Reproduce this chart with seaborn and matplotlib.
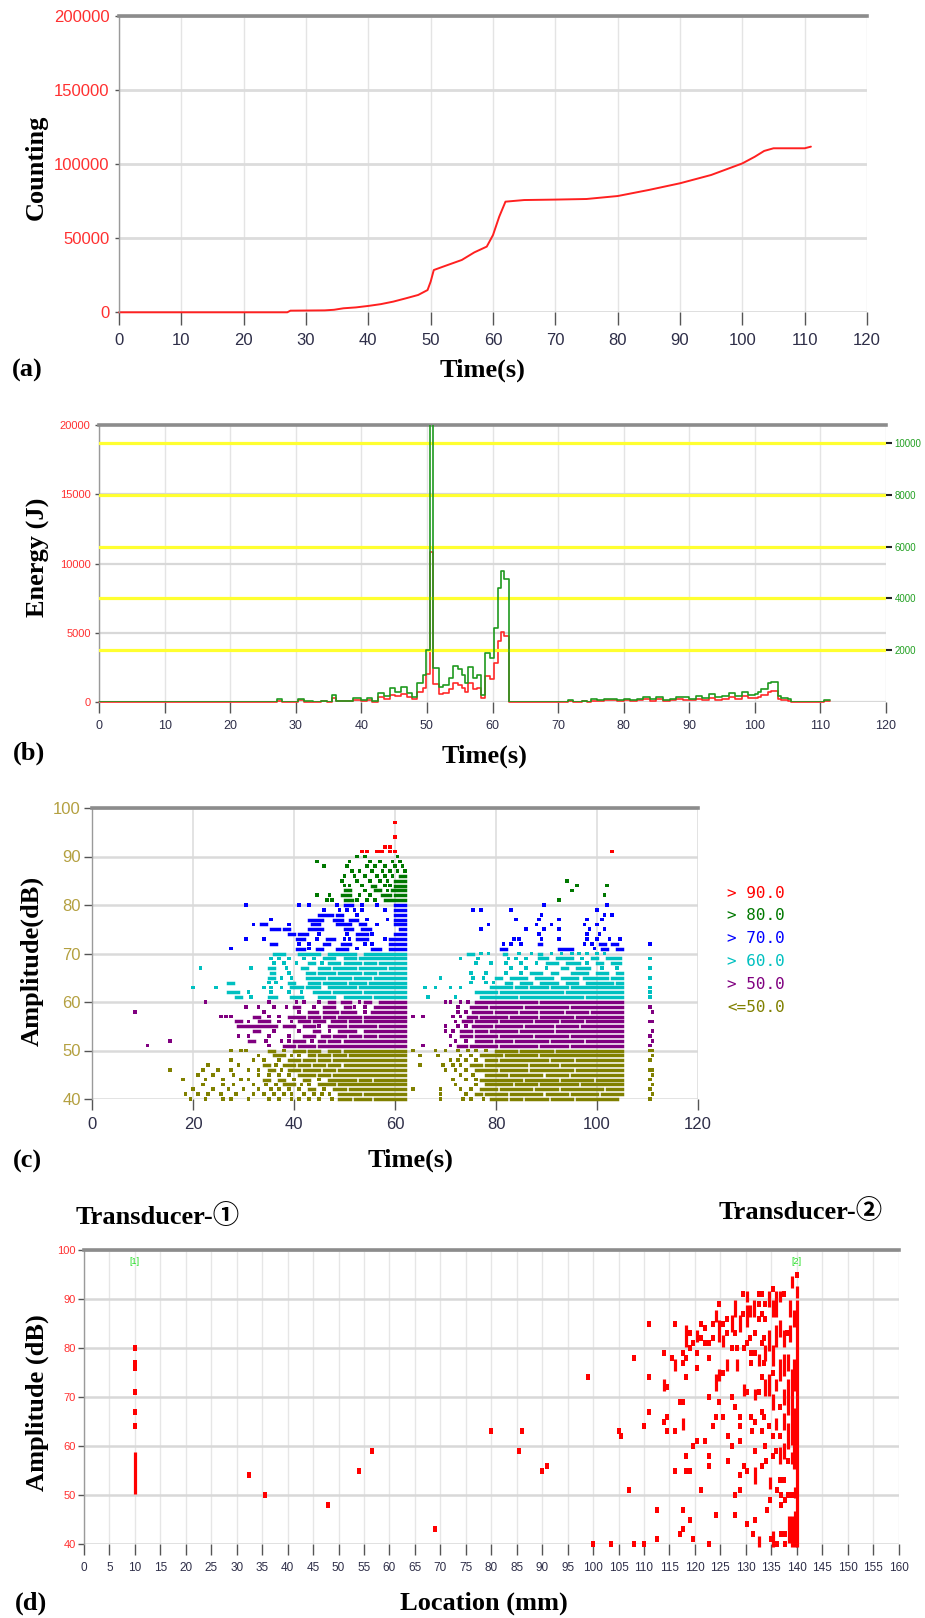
import matplotlib
matplotlib.use("Agg")
import matplotlib.pyplot as plt
import numpy as np
import pandas as pd
import seaborn as sns

# ---------------- data ----------------
# (a) cumulative counting vs time
count_time = [0, 27, 27.5, 33, 34.5, 36, 38, 40, 42, 44, 46, 48, 49.5, 50, 50.5, 52, 55, 57, 59, 60,
              61, 62, 65, 70, 75, 80, 85, 90, 95, 100, 102, 103.5, 105, 110, 111]
count_value = [0, 0, 1100, 1300, 1700, 2700, 3300, 4300, 5500, 7200, 9400, 11700, 15000, 20700, 28500,
               30800, 35300, 40400, 44300, 52100, 64500, 74600, 75700, 76000, 76400, 78400, 82500, 87000,
               92600, 100400, 104900, 108800, 110600, 110600, 111700]

# (b) energy step histogram (bin edges, value per bin)
energy_edges = [0, 27.2, 27.9, 30.4, 31.2, 32.6, 33.9, 34.8, 35.5, 36.1, 38.8, 39.9, 40.8, 41.7, 42.6,
                43.5, 44.4, 45.2, 46.0, 47.0, 47.8, 48.5, 49.4, 49.9, 50.4, 51.0, 51.8, 52.5, 53.3, 54.0,
                54.8, 55.3, 55.8, 56.3, 57.1, 57.6, 58.3, 58.9, 59.6, 60.3, 60.8, 61.3, 61.8, 62.5, 71.5,
                72.2, 73.6, 74.4, 75, 76, 77, 79, 80, 81, 82, 83, 84, 85, 86, 87, 88, 89, 90, 91, 92, 93,
                94, 95, 96, 97, 98, 99, 100, 100.5, 101, 102, 102.5, 103.5, 104, 105, 105.5, 110.5, 111.5]
energy_value = [0, 100, 0, 115, 30, 0, 50, 0, 270, 40,
                170, 77, 170, 20, 350, 230, 540, 400, 590, 350,
                210, 735, 1044, 2010, 10800, 1300, 590, 660, 915, 1390,
                1260, 1044, 720, 1365, 915, 1044, 270, 1880, 1690, 2850,
                4400, 5070, 4750, 0, 77, 0, 40, 0, 100, 60,
                120, 80, 110, 60, 130, 210, 100, 190, 80, 120,
                210, 180, 110, 230, 140, 300, 180, 240, 330, 230,
                400, 260, 320, 380, 500, 720, 760, 220, 160, 100,
                0, 70]

# (c) amplitude (dB) vs time: for each dB row, single times "t" or runs "t0-t1"
amp_rows_c = {
    97: "60",
    94: "60",
    92: "58 59",
    91: "53.5 54.5 56.5 57 57.5 59 60 103",
    90: "52.5 54 60.5",
    89: "44.5 51 55 57 59.5 61",
    88: "46 50.5 54.5 56 58 60 61.5",
    87: "51.5 53 55.5 57.5 59 60.5 62",
    86: "50 52 54 56.5 58 59.5 61-62",
    85: "49.5 52.5 55 57 58.5 60-62 94",
    84: "50 51 53.5 55.5-56 58 59 60-62 96 102",
    83: "50-51 54 56-57 58.5 59.5-62 95",
    82: "44.5 47 49.5-51 53 55 57.5-59 60-62 101.5",
    81: "46.5 47.5 50-51.5 52.5 54.5 56 58-62 92.5",
    80: "30.5 41 43 48.5 50-51.5 53.5 56.5 60-62 89.5 102",
    79: "46 49 50.5 52 53.5 58 60-62 75.5 77 83 100",
    78: "45-47.5 48.5-49.5 52.5 60-62 89 101.5 103",
    77: "35.5 43-45.5 48-49.5 51-52.5 54.5 58.5 60-62 84 88.5 92.5 98 101",
    76: "32 33.5-34.5 39 43.5-45 48.5-51 53-54 56.5 60-62 78.5 88 91 97.5 100",
    75: "35.5-37 38-39 43-45.5 50-51.5 53.5-55 61-62 77 86 89.5 92.5 98.5 101.5",
    74: "39-40 41-42.5 45 50.5 52.5-54.5 55.5 60-62 88.5 98 100.5",
    73: "30.5 34 40.5-42 44.5 46.5-48 50 51 52.5-54.5 58 59-62 83.5 84.5 89 92.5 98 100 102.5 104.5",
    72: "35.5-36.5 41 43 46-47 49.5-51 54 55.5 59-62 81.5 83 85 88.5-89 97.5 99 100.5-101.5 103-104 110.5",
    71: "27.5 40.5-42 43 44.5-45.5 48.5-50.5 52.5 55.5-57 59-62 81-82 92.5-95 99.5 101-102 104-105",
    70: "36-38 41-45 47-52 54-62 74.5-75.5 77 78.5 81.5-82 84.5 87 88.5-89 91 93 95 96.5 98 100 101.5",
    69: "35.5 37 39 42 44 46-48 50-52 53-62 73 76.5 82.5 84 86 88.5-90 92-95 97 99-100 102-104.5 110.5",
    68: "36 38 40.5 43-44 45.5 47-49 50-53 54-56 57-62 76 79 82 85 88 90-92 94-96.5 98 100-101 103-104.5",
    67: "21.5 31.5 35-36 38.5 41.5-42.5 45-47 48-52 53-58 59-62 83 86 90 93-94 96-98.5 101 104 110.5",
    66: "35.5-36 39 42.5-44 45-48 49-53 54-56 57-62 75 78 82 85 87-89 91-92 95-98 100-102 104-105",
    65: "35-36 37.5 39.5 42.5-46 47-51 52-55 56-62 69 75.5 77.5 80-81 83-86 88-91 93-96 97.5-102 103-105 110.5",
    64: "27-28 35 36.5 39-40 43-45 46-50 51-54 55-62 75 78 79.5 82-83 85-87 89-92 94-96 98-103 104-105",
    63: "20 24.5 34 35.5 37.5 39.5-41.5 42.5-45 47-52 53-62 66 68 71 73 79-83 84-86 87-90 91-94 95-105 110.5",
    62: "27-29 31 35.5 39 41.5 44-47 48-53 54-62 76-80 81-93 94-105 110.5",
    61: "28.5-29.5 31.5 35-36.5 39.5-41.5 45-48 50-55 56-62 66.5 72 77-84 85-97 98-105 110.5",
    60: "22.5 35 40.5 42 45 47-48 49.5-51 53 54-55 57-62 70 71 73 74.5 76-88 89-105",
    59: "30.5 33 36 38.5 40-41 44 46-48 50-51 52 54 56-62 72.5 75-78 79-85 86-94 95-105 110.5",
    58: "8.5 34 41 43-44.5 46-48.5 49.5-52 54 55.5-62 72.5 74 75.5-79 80-84 85-88 89-93 94-98 99-105 111",
    57: "25.5 26.5 27.5 32-33 35 37 39-42 43-45 46-48 49-53 54-62 63.5 65.5 71.5 73 74.5-76 77-82 83-88 89-95 96-105",
    56: "28.5-29.5 31 33-35 37 39.5 41-43 44-46 47.5-50 51-53 54-62 72 73.5-75 76-80 81-87 88-92 93-97 98-105 110.5 111",
    55: "29-36.5 38-40 42-44 45 47-50 51-56 57-62 70 72.5 74 75.5-79 80-85 86-91 92-96 97-105",
    54: "32-33 36 41 44-45 47 49-52 54-62 70 71.5 73-75 76-78 79-84 85-91 92-105 111",
    53: "29 31 35 39 42-44 45.5-47 48-50 51-53 54-56 57-62 71 73-75 76-80 81-87 88-94 95-105 110.5",
    52: "15.5 31-32 34.5 37.5 39 40-42 43.5 45-46 47-49 50-62 72 74 76-79 80-83 84-90 91-97 98-105 111",
    51: "11 35 38-40 41-44 45-62 65.5 71 72.5-74 75-80 81-88 89-94 95-105 110.5",
    50: "27.5 29.5 30.5 35-36 38 40-42 43-45 47-49 50-62 63.5 68 70 72.5 74.5 76 78 80-84 85-91 92-105 110.5 111",
    49: "33 36-38 39.5 41 43-44 45-47 48-50 51-62 65 68.5 73 75 77-81 82-88 89-105 111",
    48: "27.5 32 34 37 39-41 42-44 45-47 48-62 71 72.5 74 76 78-80 81-90 91-95 96-105 110.5",
    47: "23 29 34-35 36.5 38-40 41-43 44-46 47-49 50-62 65 69.5 71.5 73 75-77 78-86 87-92 93-105",
    46: "15.5 22 25 27.5 31 33 35-36 37.5 39-41 42-45 46-48 49-62 70 72 74 76-80 81-86 87-95 96-105 110.5 111",
    45: "21 24 28 33 35 37 39 41-44 45-47 48-62 73 75.5 78-82 83-89 90-94 95-105 111",
    44: "18 22.5 26 29.5 31 34-35 37-38 40 42-43 45 47-52 53-55 56-62 71.5 74 76 77-85 86-92 93-99 100-105 110.5",
    43: "22 26 28 32 34.5 36.5 38-40 41.5 43 45-48 49-62 72 76 78-83 84-88 89-96 97-105 111",
    42: "20 24 27 30 33 35.5 37 39 41 43-44 46 48-50 51-62 63.5 69 73 75 77-80 81-87 88-92 93-101 102-105 110.5",
    41: "18.5 21 23 25.5 28.5 32 34 36 38 39.5 42 44 45.5 47 49-53 54-62 69 74 76-77 78-82 83-89 90-94 95-100 101-105 111",
    40: "19.5 22.5 26 27.5 31 35 37 39.5 41 43 45 47.5 49-51 52-55 56-62 69 73.5 75 77.5 79-82 83-85 86-90 91-95 96-104 110.5",
}
legend_c = ["> 90.0", "> 80.0", "> 70.0", "> 60.0", "> 50.0", "<=50.0"]

# (d) amplitude (dB) vs location (mm): per location, single dB values or runs "dB0-dB1"
amp_cols_d = {
    10: "80 77 76 71 67 64 51-58", 32.5: "54", 35.5: "50", 48: "48", 54: "55", 56.5: "59",
    69: "43", 80: "63", 85.5: "59", 86: "63", 90: "55", 91: "56", 99: "74", 100: "40",
    103.5: "40", 105: "63", 105.5: "62", 107: "51", 108: "78 40", 110: "64 40",
    111: "85 74 67", 112.5: "47 41", 114: "79 72-73 65", 114.5: "72 66 63", 115.5: "78",
    116: "85 76-77 63 55", 117: "69 42", 117.6: "79 77 69 64-65 47 43", 118.3: "81-84 78 74 58 55",
    119: "83 80 55 45", 119.7: "81 60 41", 120.5: "82-83 79 76 61", 121.2: "85 82 51",
    122: "84 81 61", 122.7: "81 78 70 58 56 40", 123.5: "85 82 64", 124.1: "86-87 72-74 66 46",
    124.8: "89 82-85 74-75 69", 125.6: "85 81-82 75 66", 126.3: "86 83 76-77", 126.6: "62 57",
    127.2: "84-86 80 70 60", 127.9: "87-89 83 68 50 46", 128.2: "80 76-77",
    128.8: "84-86 66 64 61 54 51", 129.4: "91 87", 129.6: "80 71-72 56",
    130.2: "90-91 85-88 81 71 55 44", 130.9: "87-88 82", 131: "79 77 66", 131.2: "63",
    131.4: "42", 131.7: "87-89", 131.9: "83 79 70-71 65 59 53-55 45",
    132.5: "91 89 86 77-78 71 40-41", 133.2: "91 87 81 74 67 63 56", 133.5: "82 77 66",
    133.8: "89 86 78-80 71-73 60", 134: "57", 134.1: "47", 134.5: "89-91 80-83 71-74",
    134.6: "64", 134.8: "52-53 49", 134.9: "41", 135.3: "92 87-89 77-80 75 68-70 62 58",
    135.4: "40-42", 136: "87-91 81-84 72-73 64-65 59", 136.1: "51 40",
    136.7: "90-91 83-85 74-77 68 62 57-59 53", 137: "50 48 42",
    137.5: "91 81-83 75-78 69-71 64-66 58-60 53", 137.7: "49 42 40", 138: "83",
    138.2: "76-78 67-73 60-64 57 50", 138.4: "41-45", 138.7: "87-89 82-84",
    139: "93-94 61-75 57-58 50 40-45", 139.4: "85-87 72-77 56-67", 139.6: "50-51 40-46",
    140: "95 91-92 40-89",
}

# ---------------- style ----------------
sns.set_theme(style="white")
plt.rcParams['font.family'] = ['Liberation Sans', 'DejaVu Sans']
SERIF = ['Liberation Serif', 'DejaVu Serif', 'Noto Sans CJK JP']
NARROW = ['Liberation Sans Narrow', 'Liberation Sans', 'DejaVu Sans']

W, H = 925, 1618
fig = plt.figure(figsize=(W / 100, H / 100), dpi=100)
fig.patch.set_facecolor('white')


def box(l, t, r, b):
    return [l / W, 1 - b / H, (r - l) / W, (b - t) / H]


def ftxt(x, y, s, **kw):
    fig.text(x / W, 1 - y / H, s, **kw)


def parse(tokens):
    singles, runs = [], []
    for tok in tokens.split():
        if '-' in tok:
            a, b = tok.split('-')
            runs.append((float(a), float(b)))
        else:
            singles.append(float(tok))
    return singles, runs


def frame(ax, xcolor='#d8d8d8', ycolor='#d4d4d4', xw=1.0, yw=1.8):
    ax.set_facecolor('white')
    for s in ['right', 'bottom']:
        ax.spines[s].set_visible(False)
    ax.spines['top'].set_color('#8c8c8c')
    ax.spines['top'].set_linewidth(2.6)
    ax.spines['left'].set_color('#9a9a9a')
    ax.spines['left'].set_linewidth(1.0)
    ax.grid(True, axis='x', color=xcolor, lw=xw)
    ax.grid(True, axis='y', color=ycolor, lw=yw)
    ax.set_axisbelow(True)
    ax.set_xlabel('')
    ax.set_ylabel('')


LBL = dict(fontsize=19, fontweight='bold', family=SERIF, color='black')
XTC = '#2e2e48'

# ---------------- (a) ----------------
axa = fig.add_axes(box(119, 15.7, 867, 312.3))
sns.lineplot(x=count_time, y=count_value, color='#ff2020', lw=1.4, ax=axa,
             sort=False, estimator=None, clip_on=False)
axa.set_xlim(0, 120)
axa.set_ylim(0, 200000)
axa.set_xticks(range(0, 121, 10))
axa.set_yticks(range(0, 200001, 50000))
frame(axa, xcolor='#e4e4e4', ycolor='#dcdcdc', xw=1.0, yw=2.0)
axa.tick_params(axis='x', bottom=True, length=9, width=1, color='#555555', pad=6,
                labelsize=12, labelcolor=XTC)
axa.tick_params(axis='y', left=True, length=3, width=1, color='#555555', pad=4,
                labelsize=12, labelcolor='#ff3030')
for t in axa.get_xticklabels() + axa.get_yticklabels():
    t.set_family(NARROW)
ftxt(36, 167, 'Counting', rotation=90, ha='center', va='center', **LBL)
ftxt(482, 370, 'Time(s)', ha='center', va='center', **LBL)
ftxt(27, 370, '(a)', ha='center', va='center', **LBL)

# ---------------- (b) ----------------
axb = fig.add_axes(box(99, 425, 886, 702))
e_y = energy_value + [energy_value[-1]]
sns.lineplot(x=energy_edges, y=e_y, drawstyle='steps-post', color='#ff2a2a', lw=1.2,
             ax=axb, sort=False, estimator=None, clip_on=False)
axb.set_xlim(0, 120)
axb.set_ylim(0, 20000)
axb.set_xticks(range(0, 121, 10))
axb.set_yticks(range(0, 20001, 5000))
frame(axb, xcolor='#e4e4e4', ycolor='#d8d8d8', xw=1.0, yw=1.6)
axb.tick_params(axis='x', bottom=True, length=8, width=1, color='#555555', pad=5,
                labelsize=9, labelcolor=XTC)
axb.tick_params(axis='y', left=True, length=3, width=1, color='#555555', pad=3,
                labelsize=8, labelcolor='#ff3030')
axb2 = axb.twinx()
sns.lineplot(x=energy_edges, y=e_y, drawstyle='steps-post', color='#1f9a1f', lw=1.2,
             ax=axb2, sort=False, estimator=None, clip_on=True)
axb2.set_ylim(0, 10700)
axb2.set_yticks(range(2000, 10001, 2000))
for s in axb2.spines.values():
    s.set_visible(False)
axb2.grid(True, axis='y', color='#ffff30', lw=2.3)
axb2.grid(False, axis='x')
axb2.set_ylabel('')
axb2.tick_params(axis='y', right=True, length=4, width=1.5, color='#222222', pad=2,
                 labelsize=7, labelcolor='#22a022')
for t in axb.get_xticklabels() + axb.get_yticklabels() + axb2.get_yticklabels():
    t.set_family(NARROW)
ftxt(38, 557, 'Energy (J)', rotation=90, ha='center', va='center', **LBL)
ftxt(485, 756, 'Time(s)', ha='center', va='center', **LBL)
ftxt(29, 753, '(b)', ha='center', va='center', **LBL)

# ---------------- (c) ----------------
colors_c = ['#ff0000', '#007800', '#0000ff', '#00c0c0', '#800080', '#808000']


def band(db):
    if db > 90:
        return 0
    if db > 80:
        return 1
    if db > 70:
        return 2
    if db > 60:
        return 3
    if db > 50:
        return 4
    return 5


axc = fig.add_axes(box(92, 808, 698, 1099))
pts = []
runs_c = []
for db, toks in amp_rows_c.items():
    singles, runs = parse(toks)
    for t in singles:
        pts.append((t, db, band(db)))
    for a, b in runs:
        runs_c.append((db, a, b, band(db)))
dfc = pd.DataFrame(pts, columns=['t', 'db', 'band'])
sns.scatterplot(data=dfc, x='t', y='db', hue='band', palette=dict(enumerate(colors_c)),
                marker='s', s=7, linewidth=0, legend=False, ax=axc, clip_on=False)
for db, a, b, k in runs_c:
    lc = axc.hlines(db, a, b, colors=colors_c[k], linewidth=2.5, clip_on=False)
    lc.set_capstyle('projecting')
axc.set_xlim(0, 120)
axc.set_ylim(40, 100)
axc.set_xticks(range(0, 121, 20))
axc.set_yticks(range(40, 101, 10))
frame(axc, xcolor='#e0e0e0', ycolor='#dadada', xw=1.3, yw=1.8)
axc.tick_params(axis='x', bottom=True, length=8, width=1, color='#555555', pad=5,
                labelsize=12, labelcolor=XTC)
axc.tick_params(axis='y', left=True, length=6, width=1, color='#555555', pad=2,
                labelsize=12, labelcolor='#b4a040')
for t in axc.get_xticklabels() + axc.get_yticklabels():
    t.set_family(NARROW)
for i, (lab, col) in enumerate(zip(legend_c, colors_c)):
    ftxt(727, 893 + i * 22.8, lab, ha='left', va='center', fontsize=11.5,
         family=['DejaVu Sans Mono'], color=col)
ftxt(32, 961, 'Amplitude(dB)', rotation=90, ha='center', va='center', **LBL)
ftxt(411, 1160, 'Time(s)', ha='center', va='center', **LBL)
ftxt(27, 1161, '(c)', ha='center', va='center', **LBL)

# ---------------- (d) ----------------
axd = fig.add_axes(box(84, 1250, 898.5, 1544))
ptsd = []
runs_d = []
for loc, toks in amp_cols_d.items():
    singles, runs = parse(toks)
    for v in singles:
        ptsd.append((loc, v))
    for a, b in runs:
        runs_d.append((loc, a, b))
dfd = pd.DataFrame(ptsd, columns=['loc', 'db'])
dash = [(-0.24, -0.5), (0.24, -0.5), (0.24, 0.5), (-0.24, 0.5)]
sns.scatterplot(data=dfd, x='loc', y='db', color='#ff0000', marker=dash, s=25, linewidth=0,
                legend=False, ax=axd, clip_on=False)
for loc, a, b in runs_d:
    axd.vlines(loc, a - 0.7, b + 0.7, colors='#ff0000', linewidth=2.3, clip_on=False)
axd.set_xlim(0, 160)
axd.set_ylim(40, 100)
axd.set_xticks(range(0, 161, 5))
axd.set_yticks(range(40, 101, 10))
frame(axd, xcolor='#e6e6e6', ycolor='#d8d8d8', xw=1.0, yw=1.8)
axd.tick_params(axis='x', bottom=True, length=8, width=1, color='#555555', pad=5,
                labelsize=8.5, labelcolor=XTC)
axd.tick_params(axis='y', left=True, length=4, width=1, color='#555555', pad=2,
                labelsize=8, labelcolor='#ff3030')
for t in axd.get_xticklabels() + axd.get_yticklabels():
    t.set_family(NARROW)
axd.text(10, 97.6, '[1]', color='#22dd22', fontsize=6.5, ha='center', va='center', family=NARROW)
axd.text(140, 97.6, '[2]', color='#22dd22', fontsize=6.5, ha='center', va='center', family=NARROW)
ftxt(158, 1217, 'Transducer-①', ha='center', va='center', **LBL)
ftxt(801, 1212, 'Transducer-②', ha='center', va='center', **LBL)
ftxt(37, 1403, 'Amplitude (dB)', rotation=90, ha='center', va='center', **LBL)
ftxt(484, 1603, 'Location (mm)', ha='center', va='center', **LBL)
ftxt(31, 1603, '(d)', ha='center', va='center', **LBL)

fig.savefig('out.png', dpi=100, facecolor='white')
